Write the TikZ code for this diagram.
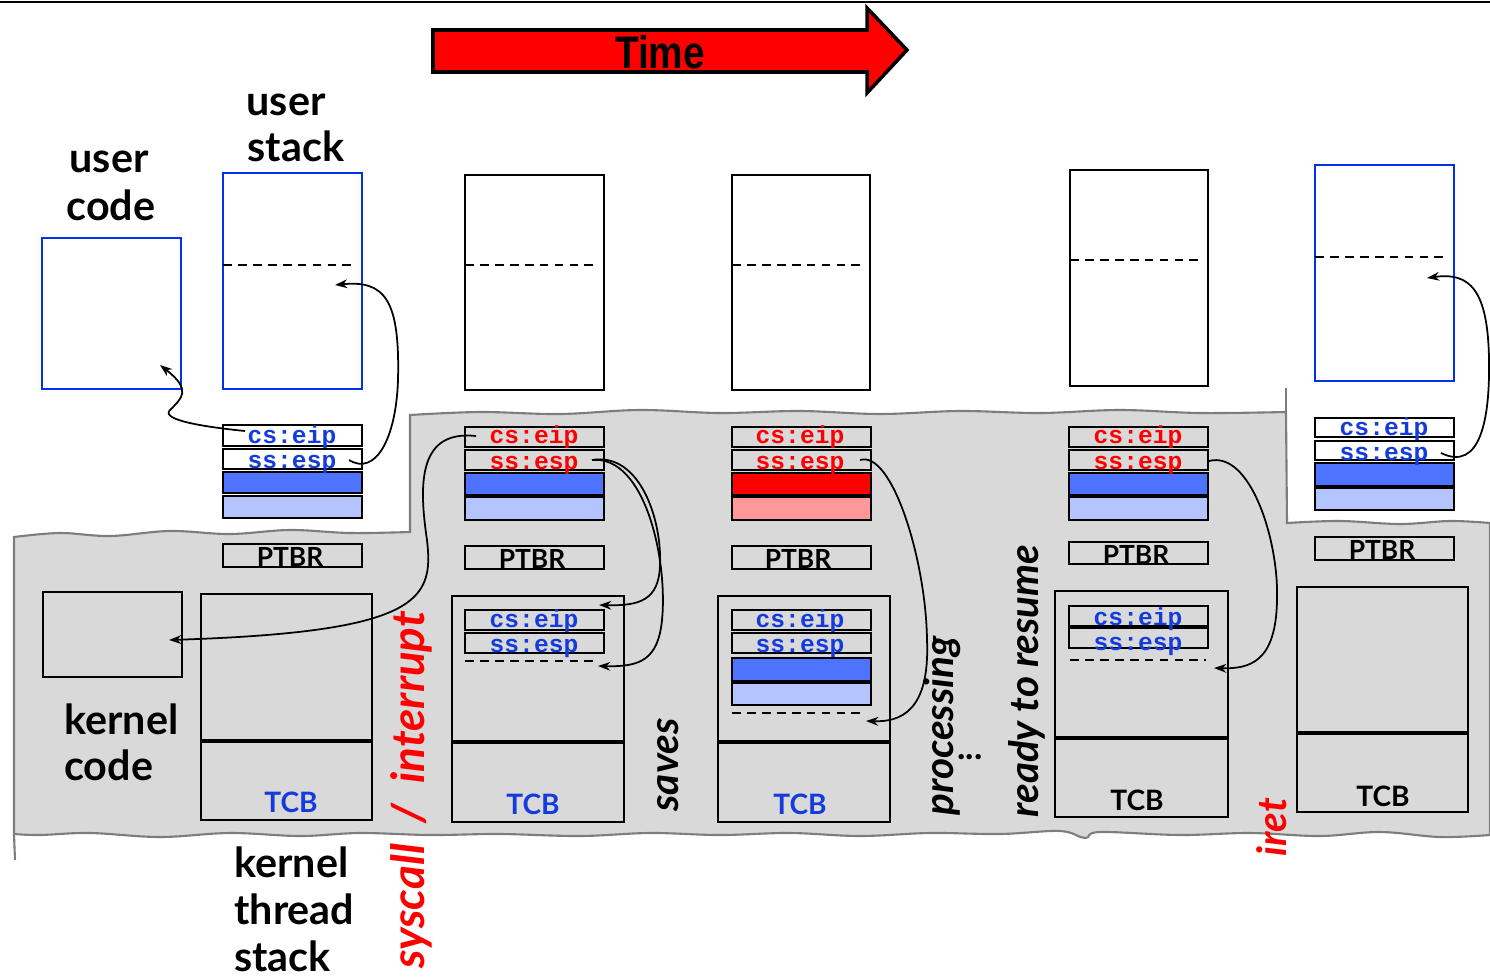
\documentclass[tikz,border=0pt]{standalone}
\usepackage{fontspec}
\setmainfont{Lato}
\newfontfamily\monofont{Liberation Mono}
\newfontfamily\arialfont{Liberation Sans}
\usetikzlibrary{arrows.meta}
\definecolor{ublue}{RGB}{0,51,230}
\definecolor{tblue}{RGB}{20,60,220}
\definecolor{dblue}{RGB}{77,115,255}
\definecolor{lblue}{RGB}{180,196,255}
\definecolor{kgray}{RGB}{217,217,217}
\definecolor{egray}{RGB}{125,125,125}
\definecolor{lpink}{RGB}{255,153,153}
\tikzset{
  lbl/.style={font=\fontsize{23.5}{26}\selectfont\bfseries, inner sep=0},
  vlbl/.style={font=\fontsize{23}{25}\selectfont\bfseries\itshape, inner sep=0, rotate=90},
  regbox/.style={draw, line width=1.3pt},
  frame/.style={draw, line width=1.1pt},
  bluebox/.style={draw=ublue, line width=1.1pt},
  cstext/.style={font=\fontsize{14}{15}\monofont\bfseries, inner sep=0},
  ptbrtext/.style={font=\fontsize{15}{17}\selectfont\bfseries, inner sep=0},
  tcbtext/.style={font=\fontsize{16}{18}\selectfont\bfseries, inner sep=0},
  dashline/.style={line width=1pt, dash pattern=on 5pt off 3.5pt},
  conn/.style={line width=1pt, -{Stealth[length=7pt,width=5pt]}},
  divider/.style={line width=2pt},
  edge/.style={draw=egray, line width=1.2pt}
}
\begin{document}
\begin{tikzpicture}[x=0.02cm,y=-0.02cm]
\useasboundingbox (0,0) rectangle (1490,977);
% top rule
\draw[line width=1.4pt] (0,2) -- (1490,2);

% kernel (gray) region
\path[fill=kgray, edge]
  (14,834) -- (14,537)
  -- plot[smooth, tension=0.6] coordinates {(14,537) (60,533) (110,536) (170,531) (230,534) (290,530) (350,533) (410,532)}
  -- (410,415)
  -- plot[smooth, tension=0.6] coordinates {(410,415) (480,412) (560,414) (640,410) (720,413) (800,411) (880,414) (960,411) (1040,413) (1120,410) (1200,413) (1286,412)}
  -- (1287,523)
  -- plot[smooth, tension=0.6] coordinates {(1287,523) (1340,521) (1400,524) (1450,521) (1490,523)}
  -- (1490,835)
  -- plot[smooth, tension=0.6] coordinates {(1490,835) (1440,837) (1380,832) (1320,836) (1250,833) (1180,835) (1100,832) (1085,838) (1060,831) (1000,834) (930,833) (860,836) (790,833) (720,835) (650,833) (580,836) (500,834) (430,835) (360,833) (300,836) (230,833) (160,837) (90,833) (40,835) (14,834)}
  -- cycle;
\draw[edge] (14,834) -- (15,860);
\draw[edge] (1286,412) -- (1286,388);

% Time arrow
\draw[fill=red, line width=2pt] (433,30) -- (867,30) -- (867,8) -- (907,50)
  -- (867,93) -- (867,72) -- (433,72) -- cycle;
\node[font=\fontsize{26}{28}\arialfont\bfseries, xscale=0.85, inner sep=0] (time) at (660,52) {Time};

% labels
\node[lbl, anchor=base] (ucA) at (109,172) {user};
\node[lbl, anchor=base] (ucB) at (111,220) {code};
\node[lbl, anchor=base] (usA) at (286,115) {user};
\node[lbl, anchor=base] (usB) at (296,161) {stack};
\node[lbl, anchor=base west] (kcA) at (64,734) {kernel};
\node[lbl, anchor=base west] (kcB) at (64,780) {code};
\node[lbl, anchor=base west] (ktA) at (234,877) {kernel};
\node[lbl, anchor=base west] (ktB) at (234,924) {thread};
\node[lbl, anchor=base west] (ktC) at (234,971) {stack};

% user code / user stack boxes
\draw[bluebox] (42,238) rectangle (181,389);
\draw[bluebox] (223,173) rectangle (362,389);
\draw[dashline] (223,265) -- (357,265);
\draw[frame] (465,175) rectangle (604,390);
\draw[dashline] (465,265) -- (599,265);
\draw[frame] (732,175) rectangle (870,390);
\draw[dashline] (732,265) -- (865,265);
\draw[frame] (1070,170) rectangle (1208,386);
\draw[dashline] (1070,260) -- (1203,260);
\draw[bluebox] (1315,165) rectangle (1454,381);
\draw[dashline] (1315,257) -- (1449,257);

% ---------- column 1
\draw[regbox, fill=white] (223,425) rectangle (362,446);
\draw[regbox, fill=white] (223,449) rectangle (362,469);
\draw[regbox, fill=dblue] (223,472) rectangle (362,493);
\draw[regbox, fill=lblue] (223,496) rectangle (362,518);
\node[cstext, text=tblue] (c1cs) at (292,437) {cs:eip};
\node[cstext, text=tblue] (c1ss) at (292,464) {ss:esp};
\draw[regbox] (223,544) rectangle (362,567);
\node[ptbrtext] (p1) at (290,557) {PTBR};
\draw[frame] (43,592) rectangle (182,677);
\draw[frame] (201,594) rectangle (372,820);
\draw[divider] (201,741) -- (372,741);
\node[tcbtext, text=tblue] (t1) at (291,802) {TCB};

% ---------- column 2
\draw[regbox] (465,427) rectangle (604,447);
\draw[regbox] (465,450) rectangle (604,470);
\draw[regbox, fill=dblue] (465,473) rectangle (604,495);
\draw[regbox, fill=lblue] (465,497) rectangle (604,520);
\node[cstext, text=red] (c2cs) at (534,437) {cs:eip};
\node[cstext, text=red] (c2ss) at (534,465) {ss:esp};
\draw[regbox] (465,546) rectangle (604,569);
\node[ptbrtext] (p2) at (532,559) {PTBR};
\draw[frame] (452,596) rectangle (624,822);
\draw[divider] (452,742) -- (624,742);
\draw[regbox] (465,610) rectangle (604,630);
\draw[regbox] (465,633) rectangle (604,653);
\node[cstext, text=tblue] (k2cs) at (534,621) {cs:eip};
\node[cstext, text=tblue] (k2ss) at (534,648) {ss:esp};
\draw[dashline] (465,661) -- (598,661);
\node[tcbtext, text=tblue] (t2) at (533,804) {TCB};

% ---------- column 3
\draw[regbox] (732,427) rectangle (871,447);
\draw[regbox] (732,450) rectangle (871,470);
\draw[regbox, fill=red] (732,473) rectangle (871,495);
\draw[regbox, fill=lpink] (732,497) rectangle (871,520);
\node[cstext, text=red] (c3cs) at (800,437) {cs:eip};
\node[cstext, text=red] (c3ss) at (800,465) {ss:esp};
\draw[regbox] (732,546) rectangle (871,569);
\node[ptbrtext] (p3) at (798,559) {PTBR};
\draw[frame] (718,596) rectangle (890,822);
\draw[divider] (718,742) -- (890,742);
\draw[regbox] (732,610) rectangle (871,630);
\draw[regbox] (732,633) rectangle (871,653);
\draw[regbox, fill=dblue] (732,658) rectangle (871,681);
\draw[regbox, fill=lblue] (732,683) rectangle (871,705);
\node[cstext, text=tblue] (k3cs) at (800,621) {cs:eip};
\node[cstext, text=tblue] (k3ss) at (800,648) {ss:esp};
\draw[dashline] (732,713) -- (865,713);
\node[tcbtext, text=tblue] (t3) at (800,804) {TCB};

% ---------- column 4
\draw[regbox] (1069,427) rectangle (1208,447);
\draw[regbox] (1069,450) rectangle (1208,470);
\draw[regbox, fill=dblue] (1069,473) rectangle (1208,495);
\draw[regbox, fill=lblue] (1069,497) rectangle (1208,520);
\node[cstext, text=red] (c4cs) at (1138,437) {cs:eip};
\node[cstext, text=red] (c4ss) at (1138,465) {ss:esp};
\draw[regbox] (1069,542) rectangle (1208,564);
\node[ptbrtext] (p4) at (1136,555) {PTBR};
\draw[frame] (1055,591) rectangle (1228,817);
\draw[divider] (1055,738) -- (1228,738);
\draw[regbox] (1069,606) rectangle (1208,626);
\draw[regbox] (1069,628) rectangle (1208,648);
\node[cstext, text=tblue] (k4cs) at (1138,619) {cs:eip};
\node[cstext, text=tblue] (k4ss) at (1138,646) {ss:esp};
\draw[dashline] (1070,660) -- (1206,660);
\node[tcbtext] (t4) at (1137,800) {TCB};

% ---------- column 5
\draw[regbox, fill=white] (1315,418) rectangle (1454,437);
\draw[regbox, fill=white] (1315,441) rectangle (1454,460);
\draw[regbox, fill=dblue] (1315,463) rectangle (1454,486);
\draw[regbox, fill=lblue] (1315,488) rectangle (1454,510);
\node[cstext, text=tblue] (c5cs) at (1384,429) {cs:eip};
\node[cstext, text=tblue] (c5ss) at (1384,456) {ss:esp};
\draw[regbox] (1315,537) rectangle (1454,560);
\node[ptbrtext] (p5) at (1382,550) {PTBR};
\draw[frame] (1297,587) rectangle (1468,812);
\draw[divider] (1297,733) -- (1468,733);
\node[tcbtext] (t5) at (1383,796) {TCB};

% vertical labels
\node[vlbl, text=red, font=\fontsize{26}{28}\selectfont\bfseries\itshape] (sys) at (411,790) {syscall\hspace{0.45em}/\hspace{0.45em}interrupt};
\node[vlbl] (saves) at (668,765) {saves};
\node[vlbl] (proc) at (942,726) {processing};
\node[font=\fontsize{20}{22}\selectfont\bfseries, inner sep=0] (dots) at (970,757) {...};
\node[vlbl] (ready) at (1027,681) {ready to resume};
\node[vlbl, text=red] (iret) at (1272,827) {iret};

% connector end points
\coordinate (a1s) at (245,431);
\coordinate (a1e) at (160,365);
\coordinate (a2s) at (349,460);
\coordinate (a2e) at (335,285);
\coordinate (a3s) at (476,436);
\coordinate (a3e) at (169,640);
\coordinate (a4s) at (592,460);
\coordinate (a4e) at (599,605);
\coordinate (a5e) at (598,666);
\coordinate (a6s) at (860,460);
\coordinate (a6e) at (866,721);
\coordinate (a7s) at (1209,461);
\coordinate (a7e) at (1214,668);
\coordinate (a8s) at (1441,453);
\coordinate (a8e) at (1427,278);

% connectors
\draw[conn] (a1s) .. controls (205,427) and (160,420) .. (170,410)
  .. controls (182,398) and (192,390) .. (a1e);
\draw[conn] (a2s) .. controls (375,476) and (396,440) .. (398,380)
  .. controls (400,300) and (385,280) .. (a2e);
\draw[conn] (a3s) .. controls (420,430) and (418,480) .. (427,540)
  .. controls (434,600) and (420,632) .. (a3e);
\draw[conn] (a4s) .. controls (640,452) and (662,520) .. (660,565)
  .. controls (659,600) and (640,606) .. (a4e);
\draw[conn] (a4s) .. controls (645,455) and (668,560) .. (662,620)
  .. controls (658,660) and (640,667) .. (a5e);
\draw[conn] (a6s) .. controls (892,450) and (926,560) .. (927,640)
  .. controls (930,712) and (900,722) .. (a6e);
\draw[conn] (a7s) .. controls (1250,450) and (1279,540) .. (1277,600)
  .. controls (1276,662) and (1250,669) .. (a7e);
\draw[conn] (a8s) .. controls (1480,472) and (1490,420) .. (1489,360)
  .. controls (1488,290) and (1470,272) .. (a8e);
\end{tikzpicture}
\end{document}
